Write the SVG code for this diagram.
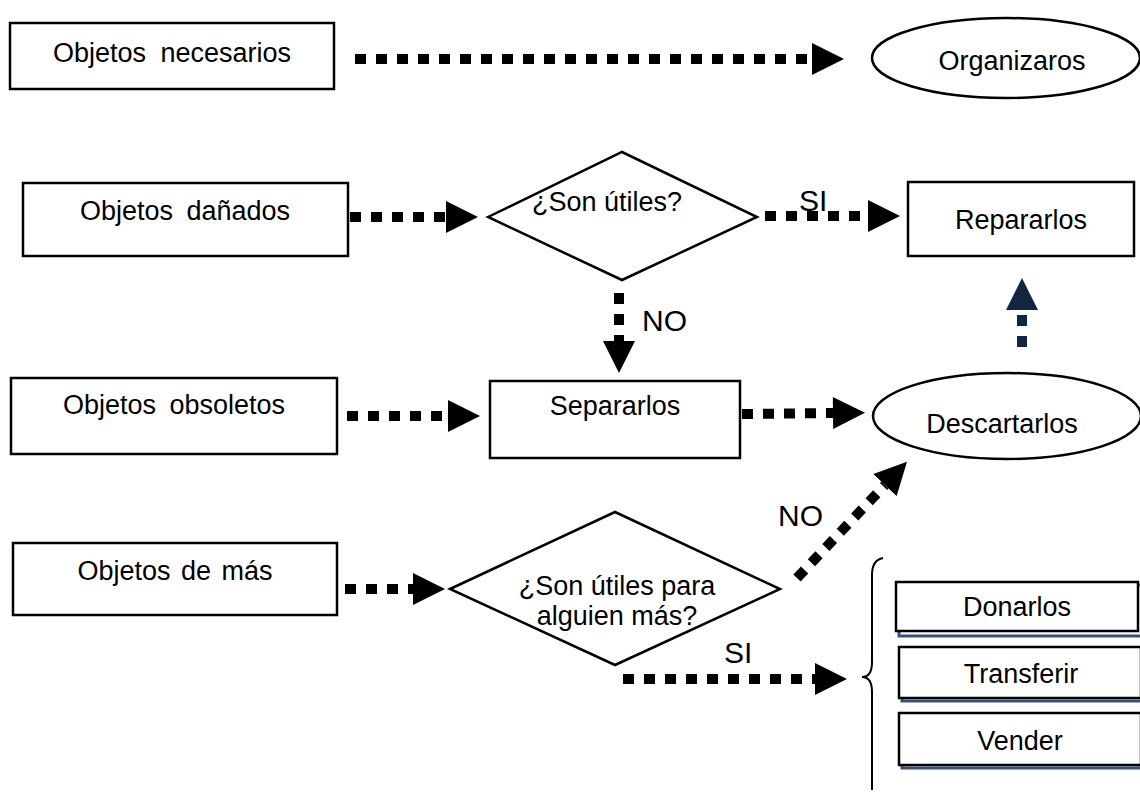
<svg xmlns="http://www.w3.org/2000/svg" width="1140" height="794" viewBox="0 0 1140 794">
<style>
.box{fill:#fff;stroke:#000;stroke-width:2.5}
.t{font-family:"Liberation Sans",Arial,sans-serif;font-size:27px;fill:#000;text-anchor:middle}
.lbl{font-family:"Liberation Sans",Arial,sans-serif;font-size:30px;fill:#000}
.c{fill:none;stroke:#000;stroke-width:10;stroke-dasharray:11 10;stroke-linecap:butt}
</style>
<defs>
<marker id="ah" markerUnits="userSpaceOnUse" markerWidth="32" markerHeight="32" refX="0" refY="16" orient="auto" overflow="visible">
<path d="M0,0 L32,16 L0,32 z" fill="#000"/>
</marker>
<marker id="ahb" markerUnits="userSpaceOnUse" markerWidth="32" markerHeight="32" refX="0" refY="16" orient="auto" overflow="visible">
<path d="M0,0 L32,16 L0,32 z" fill="#13263f"/>
</marker>
</defs>
<rect width="1140" height="794" fill="#fff"/>

<g id="n-necesarios"><rect class="box" x="10" y="23" width="324" height="66"/><text class="t" x="172" y="62" word-spacing="7">Objetos necesarios</text></g>
<g id="n-organizaros"><ellipse class="box" cx="1006" cy="58" rx="134" ry="40"/><text class="t" x="1012" y="70">Organizaros</text></g>

<g id="n-danados"><rect class="box" x="23" y="183" width="325" height="73"/><text class="t" x="185" y="220" word-spacing="6">Objetos dañados</text></g>
<g id="n-utiles"><polygon class="box" points="488,217 622,152 757,217 622,280"/><text class="t" x="607" y="211">¿Son útiles?</text></g>
<g id="n-reparar"><rect class="box" x="908" y="182" width="226" height="74"/><text class="t" x="1021" y="229">Repararlos</text></g>

<g id="n-obsoletos"><rect class="box" x="11" y="378" width="326" height="76"/><text class="t" x="174" y="414" word-spacing="6">Objetos obsoletos</text></g>
<g id="n-separar"><rect class="box" x="490" y="381" width="250" height="77"/><text class="t" x="615" y="415">Separarlos</text></g>
<g id="n-descartar"><ellipse class="box" cx="1007" cy="416" rx="134" ry="43"/><text class="t" x="1002" y="433">Descartarlos</text></g>

<g id="n-demas"><rect class="box" x="13" y="543" width="324" height="72"/><text class="t" x="175" y="580" word-spacing="3">Objetos de más</text></g>
<g id="n-utiles2"><polygon class="box" points="450,589 615,512 780,589 615,665"/><text class="t" x="617" y="595">¿Son útiles para</text><text class="t" x="617" y="625">alguien más?</text></g>

<g id="n-brace"><path d="M883,558 Q872,560 872,575 L872,662 Q872,677 862,677 Q872,677 872,692 L872,790" fill="none" stroke="#000" stroke-width="2"/></g>
<g id="n-donar"><rect x="899" y="585" width="245" height="51" fill="none" stroke="#3a5072" stroke-width="3"/><rect class="box" x="896" y="582" width="242" height="49" fill="none"/><text class="t" x="1017" y="616">Donarlos</text></g>
<g id="n-transferir"><rect x="902" y="650" width="245" height="51" fill="none" stroke="#3a5072" stroke-width="3"/><rect class="box" x="899" y="647" width="242" height="51" fill="none"/><text class="t" x="1021" y="683">Transferir</text></g>
<g id="n-vender"><rect x="902" y="716" width="245" height="52" fill="none" stroke="#3a5072" stroke-width="3"/><rect class="box" x="899" y="713" width="242" height="52" fill="none"/><text class="t" x="1020" y="750">Vender</text></g>

<g id="connectors">
<line class="c" x1="355" y1="59" x2="812" y2="59" marker-end="url(#ah)"/>
<line class="c" x1="350" y1="217" x2="446" y2="217" marker-end="url(#ah)"/>
<line class="c" x1="765" y1="216" x2="868" y2="216" marker-end="url(#ah)"/>
<text class="lbl" x="799" y="211">SI</text>
<line class="c" x1="619" y1="293" x2="619" y2="341" stroke-width="8" marker-end="url(#ah)"/>
<text class="lbl" x="642" y="331">NO</text>
<line x1="1022" y1="347" x2="1022" y2="310" stroke="#13263f" stroke-width="10" stroke-dasharray="11 10" marker-end="url(#ahb)"/>
<line class="c" x1="347" y1="416" x2="448" y2="416" marker-end="url(#ah)"/>
<line class="c" x1="742" y1="414" x2="833" y2="413" marker-end="url(#ah)"/>
<line class="c" x1="345" y1="589" x2="413" y2="589" marker-end="url(#ah)"/>
<line class="c" x1="797" y1="578" x2="885" y2="485" marker-end="url(#ah)"/>
<text class="lbl" x="778" y="526">NO</text>
<line class="c" x1="623" y1="679" x2="815" y2="679" stroke-width="9" marker-end="url(#ah)"/>
<text class="lbl" x="724" y="663">SI</text>
</g>
</svg>
